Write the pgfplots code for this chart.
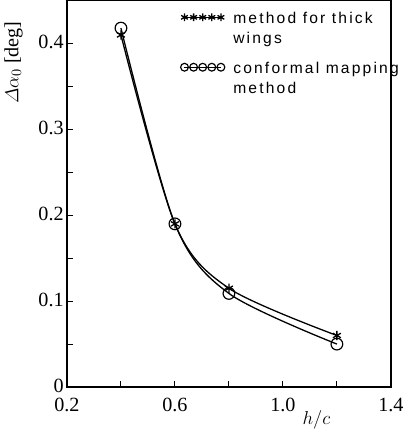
\documentclass[border=0pt]{standalone}
\usepackage{amsmath}
\usepackage{fontspec}
\setmainfont{Liberation Serif}
\newfontfamily\legfont[LetterSpace=14]{Liberation Sans}
\usepackage{pgfplots}
\pgfplotsset{compat=1.18}

\pgfplotstableread{
x y
0.4 0.410
0.6 0.190
0.8 0.115
1.2 0.060
}\thickwing

\pgfplotstableread{
x y
0.4 0.418
0.6 0.190
0.8 0.109
1.2 0.050
}\conformal

\begin{document}
\begin{tikzpicture}
\begin{axis}[
  scale only axis,
  width=249pt, height=297pt,
  xmin=0.2, xmax=1.4, ymin=0, ymax=0.45,
  xtick={0.2,0.6,1.0,1.4},
  xticklabels={0.2,0.6,1.0,1.4},
  minor xtick={0.4,0.8,1.2},
  ytick={0,0.1,0.2,0.3,0.4},
  yticklabels={0,0.1,0.2,0.3,0.4},
  minor ytick={0.05,0.15,0.25,0.35},
  tick pos=left, tick align=inside,
  major tick length=5pt, minor tick length=5pt,
  axis line style={line width=1pt},
  tick style={line width=0.8pt, black},
  /pgf/number format/assume math mode=true,
  tick label style={font=\fontsize{15.5}{15.5}\selectfont},
  xticklabel style={yshift=-5pt},
  yticklabel style={xshift=1pt, yshift=1pt},
  xlabel={$h/c$},
  xlabel style={font=\fontsize{15.5}{15.5}\selectfont, at={(axis description cs:0.77,-0.05)}, anchor=north},
  ylabel={$\varDelta\alpha_0$ [deg]},
  ylabel style={font=\fontsize{15.5}{15.5}\selectfont, at={(axis description cs:-0.165,0.84)}, anchor=center},
  legend style={draw=none, fill=none, at={(axis description cs:0.35,0.985)}, anchor=north west,
    font=\legfont\fontsize{12}{15.5}\selectfont, row sep=22pt, inner sep=0pt},
  legend cell align=left,
  legend image code/.code={
    \draw[#1, mark size=3pt] plot coordinates {(0pt,0pt) (7pt,0pt) (14pt,0pt) (21pt,0pt) (28pt,0pt)};
    \path (35pt,0pt);
  },
]
\addplot[black, line width=1pt, smooth, mark=asterisk, mark size=3.5pt, mark options={line width=1pt}] table {\thickwing};
\addlegendentry{\begin{tabular}[t]{@{}l@{}}method for thick\\wings\end{tabular}}
\addplot[black, line width=1pt, smooth, mark=o, mark size=4.5pt, mark options={line width=0.9pt}] table {\conformal};
\addlegendentry{\begin{tabular}[t]{@{}l@{}}conformal mapping\\method\end{tabular}}
\end{axis}
\end{tikzpicture}
\end{document}
